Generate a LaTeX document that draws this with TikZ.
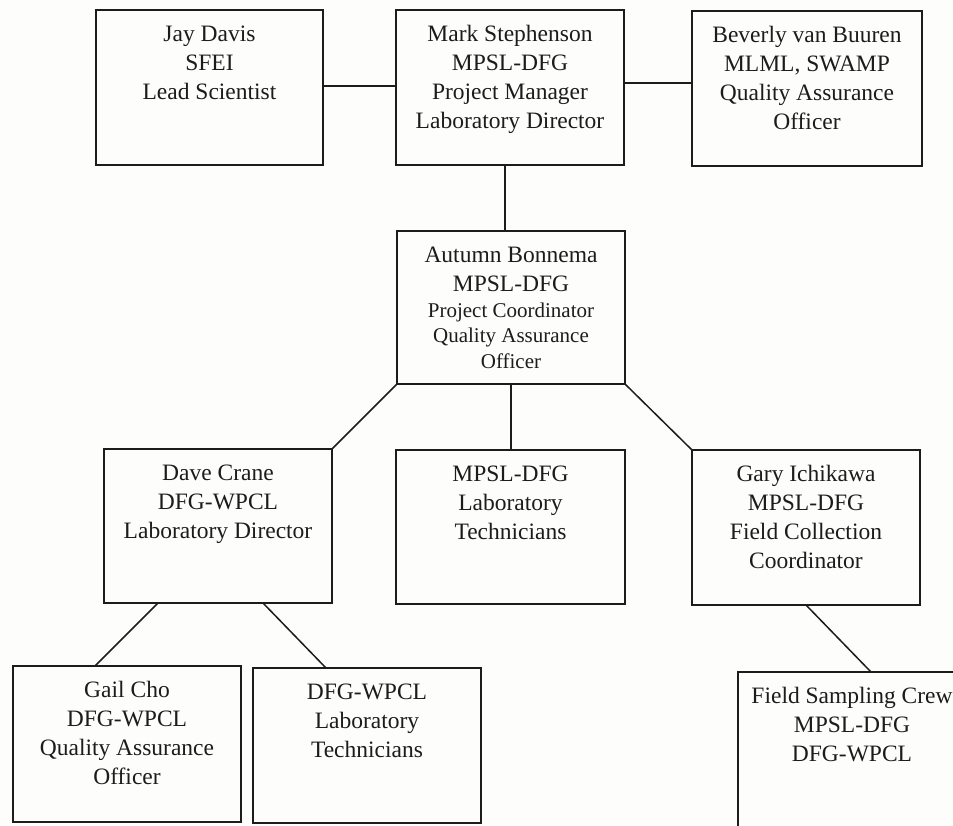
\documentclass[tikz,border=0pt]{standalone}
\usepackage{fontspec}
\setmainfont{Liberation Serif}
\definecolor{ink}{RGB}{28,28,28}
\definecolor{bgc}{RGB}{253,253,251}
\newcommand{\normsz}{\fontsize{23.5}{29}\selectfont}
\newcommand{\smallsz}{\fontsize{21}{25.5}\selectfont}
\newcommand{\boxbody}[3]{\parbox[c][#2pt][t]{#1pt}{\centering\normsz\vspace*{15.5pt}\rule{0pt}{16pt}#3}}
\begin{document}
\begin{tikzpicture}[x=1pt,y=-1pt,
  box/.style={draw=ink, line width=2.4pt, inner sep=0pt, outer sep=0pt, anchor=north west, text=ink},
  link/.style={draw=ink, line width=1.5pt}]
\clip (0,0) rectangle (953,825);
\fill[bgc] (0,0) rectangle (953,825);
% top row
\node[box] (jay) at (96,10) {\boxbody{227}{155}{Jay Davis\\SFEI\\Lead Scientist}};
\node[box] (mark) at (396,10) {\boxbody{228}{155}{Mark Stephenson\\MPSL-DFG\\Project Manager\\Laboratory Director}};
\node[box] (bev) at (692,11) {\boxbody{230}{155}{Beverly van Buuren\\MLML, SWAMP\\Quality Assurance\\Officer}};
% middle
\node[box] (autumn) at (397,231) {\boxbody{228}{153}{Autumn Bonnema\\MPSL-DFG\par\smallsz Project Coordinator\\Quality Assurance\\Officer}};
% third row
\node[box] (dave) at (104,449) {\boxbody{228}{154}{Dave Crane\\DFG-WPCL\\Laboratory Director}};
\node[box] (mpsl) at (396,450) {\boxbody{229}{154}{MPSL-DFG\\Laboratory\\Technicians}};
\node[box] (gary) at (692,450) {\boxbody{228}{155}{Gary Ichikawa\\MPSL-DFG\\Field Collection\\Coordinator}};
% bottom row
\node[box] (gail) at (13,666) {\boxbody{228}{156}{Gail Cho\\DFG-WPCL\\Quality Assurance\\Officer}};
\node[box] (dfg) at (253,668) {\boxbody{228}{155}{DFG-WPCL\\Laboratory\\Technicians}};
\node[box] (field) at (738,672) {\boxbody{228}{158}{Field Sampling Crew\\MPSL-DFG\\DFG-WPCL}};
% connectors
\draw[link] ([yshift=1.5pt]jay.east) -- ([yshift=1.5pt]jay.east -| mark.west);
\draw[link] ([yshift=4.5pt]mark.east) -- ([yshift=4.5pt]mark.east -| bev.west);
\draw[link] ([xshift=-5pt]mark.south) -- ([xshift=-5pt]mark.south |- autumn.north);
\draw[link] (autumn.south west) -- (dave.north east);
\draw[link] (autumn.south) -- (autumn.south |- mpsl.north);
\draw[link] (autumn.south east) -- (gary.north west);
\draw[link] ([xshift=-60pt]dave.south) -- ([xshift=-32pt]gail.north);
\draw[link] ([xshift=45pt]dave.south) -- ([xshift=-41pt]dfg.north);
\draw[link] (gary.south) -- ([xshift=19pt]field.north);
\end{tikzpicture}
\end{document}
